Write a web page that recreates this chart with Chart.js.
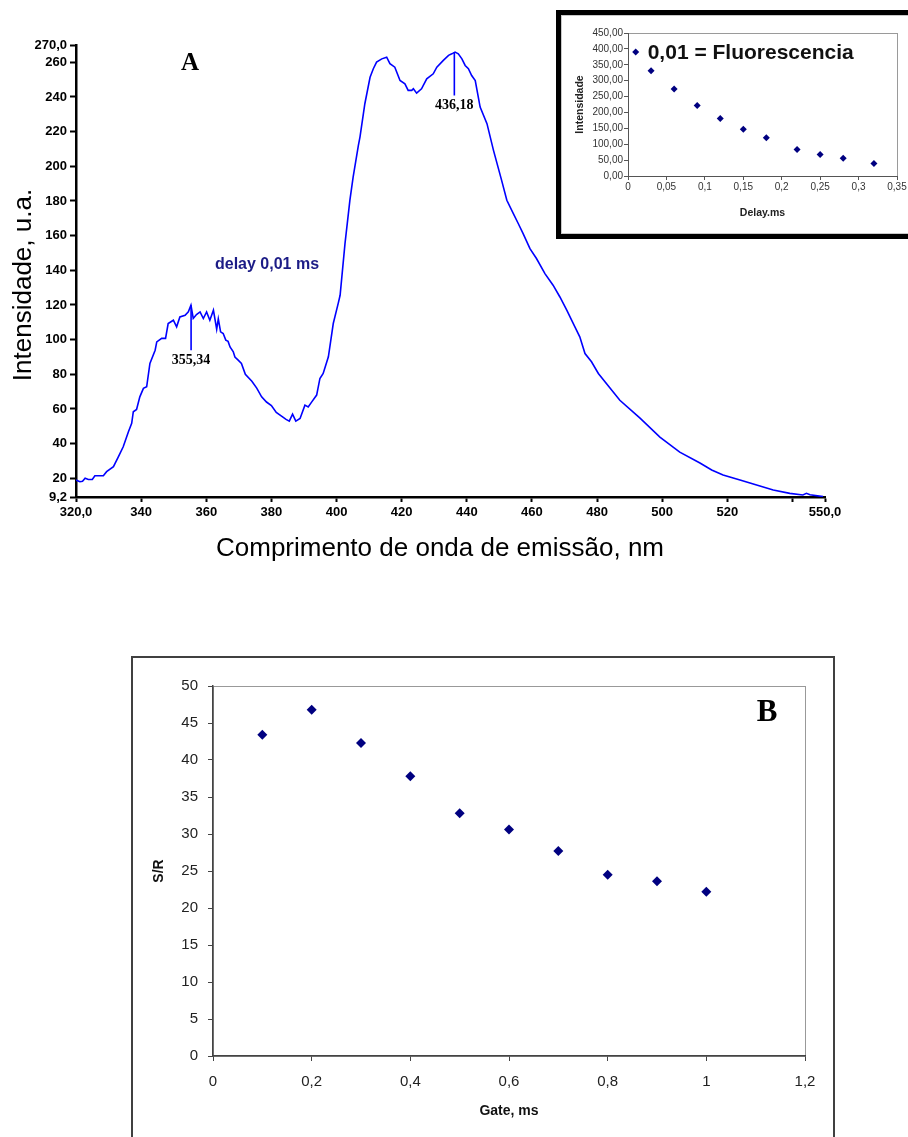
<!DOCTYPE html>
<html>
<head>
<meta charset="utf-8">
<script src="https://cdn.jsdelivr.net/npm/chart.js@4.4.1/dist/chart.umd.min.js"></script>
<style>
  html, body { margin: 0; padding: 0; background: #fff; }
  body { width: 908px; height: 1137px; position: relative; overflow: hidden; }
  #boxA { position: absolute; left: 0; top: 0; width: 908px; height: 580px; }
  #boxInset { position: absolute; left: 556px; top: 10px; width: 352px; height: 219px;
              border: 5px solid #000; background: #fff; box-shadow: inset 0 0 0 1px #c8c8c8; }
  #boxB { position: absolute; left: 131px; top: 656px; width: 700px; height: 480px;
          border: 2px solid #404040; background: #fff; }
</style>
</head>
<body>
<div id="boxA"><canvas id="chartA"></canvas></div>
<div id="boxInset"><canvas id="chartInset"></canvas></div>
<div id="boxB"><canvas id="chartB"></canvas></div>

<script>
const ARIAL = "Arial, 'Liberation Sans', Helvetica, sans-serif";
const TIMES = "'Times New Roman', 'Liberation Serif', serif";

// --- A: emission spectrum (delay 0,01 ms) ---
const specNm = [320.0, 321.2, 322.0, 322.8, 323.8, 325.0, 325.8, 328.4, 329.4, 331.5,
  333.0, 334.5, 336.1, 337.1, 337.6, 338.6, 339.6, 340.7, 341.7, 342.7,
  344.3, 344.8, 346.3, 347.5, 348.3, 349.9, 350.9, 351.9, 353.5, 354.5,
  355.3, 356.0, 357.0, 358.1, 359.1, 360.1, 361.1, 362.2, 363.2, 363.7,
  364.4, 365.2, 366.0, 366.7, 367.3, 368.3, 368.8, 369.8, 370.8, 372.0,
  374.0, 375.5, 377.0, 378.5, 380.0, 381.5, 383.0, 384.5, 385.5, 386.5,
  387.5, 388.8, 390.3, 391.3, 392.4, 393.9, 394.9, 395.9, 397.5, 399.0,
  400.5, 401.1, 402.6, 404.1, 405.1, 406.7, 407.2, 408.7, 410.3, 411.3,
  412.3, 413.9, 415.4, 416.4, 417.9, 419.5, 421.0, 422.0, 423.1, 423.6,
  424.6, 426.1, 427.7, 429.7, 430.8, 432.8, 434.4, 435.4, 436.4, 437.4,
  438.5, 439.5, 440.5, 441.5, 442.6, 444.1, 446.2, 448.2, 450.7, 452.3,
  454.3, 455.8, 457.3, 459.4, 461.4, 464.0, 466.5, 468.6, 470.7, 473.2,
  474.7, 476.3, 478.3, 480.4, 487.0, 493.2, 499.3, 505.4, 511.6, 515.2,
  518.7, 523.9, 529.0, 534.1, 539.2, 543.2, 544.3, 545.4, 549.4];
const specVal = [19.0, 18.0, 18.3, 20.0, 19.3, 19.3, 21.5, 21.5, 23.8, 26.7,
  32.4, 38.2, 46.8, 51.7, 58.4, 59.7, 67.0, 71.9, 72.8, 86.3,
  93.9, 98.7, 100.7, 100.7, 109.3, 111.2, 107.4, 113.1, 114.1, 116.0,
  119.9, 112.2, 114.5, 116.0, 112.2, 116.0, 111.2, 117.0, 106.0, 112.0,
  104.5, 103.5, 99.7, 99.0, 95.8, 93.0, 90.0, 88.2, 86.3, 80.0,
  76.0, 72.0, 67.0, 64.0, 62.0, 58.0, 56.0, 54.0, 53.0, 57.0,
  53.0, 54.5, 62.2, 61.2, 64.1, 68.0, 77.6, 80.5, 90.1, 109.3,
  120.8, 125.6, 155.4, 180.4, 193.8, 212.0, 216.9, 236.1, 251.4, 256.3,
  260.1, 262.0, 263.0, 259.2, 257.2, 249.5, 247.6, 243.8, 243.8, 244.8,
  242.2, 244.7, 250.5, 253.4, 257.2, 261.1, 264.0, 264.9, 265.9, 264.9,
  262.0, 258.2, 256.3, 252.4, 249.5, 234.2, 224.6, 209.2, 191.9, 180.4,
  172.7, 167.0, 161.2, 152.5, 146.8, 138.1, 131.4, 124.6, 117.0, 107.4,
  101.6, 92.0, 87.2, 80.5, 65.0, 54.7, 43.8, 35.1, 28.8, 24.8,
  21.9, 19.0, 16.1, 13.2, 11.3, 10.4, 11.3, 10.5, 9.4];
const specXTicks = [320, 340, 360, 380, 400, 420, 440, 460, 480, 500, 520, 540, 550];
const specXLabels = ['320,0', '340', '360', '380', '400', '420', '440', '460', '480', '500', '520', '', '550,0'];
const specYTicks = [9.2, 20, 40, 60, 80, 100, 120, 140, 160, 180, 200, 220, 240, 260, 270];
const specYLabels = ['9,2', '20', '40', '60', '80', '100', '120', '140', '160', '180', '200', '220', '240', '260', '270,0'];
// peak markers: wavelength, top and bottom of the marker line, label
const peakNm = [355.34, 436.18];
const peakTop = [119.9, 265.9];
const peakLow = [93.9, 240.9];
const peakText = ['355,34', '436,18'];

// --- inset: intensity vs delay ---
const insetDelay = [0.01, 0.03, 0.06, 0.09, 0.12, 0.15, 0.18, 0.22, 0.25, 0.28, 0.32];
const insetInt = [390, 331, 274, 222, 181, 147, 120, 83, 68, 56, 39];
const insetXTicks = [0, 0.05, 0.1, 0.15, 0.2, 0.25, 0.3, 0.35];
const insetXLabels = ['0', '0,05', '0,1', '0,15', '0,2', '0,25', '0,3', '0,35'];
const insetYTicks = [0, 50, 100, 150, 200, 250, 300, 350, 400, 450];
const insetYLabels = ['0,00', '50,00', '100,00', '150,00', '200,00', '250,00', '300,00', '350,00', '400,00', '450,00'];

// --- B: S/R vs gate ---
const gate = [0.1, 0.2, 0.3, 0.4, 0.5, 0.6, 0.7, 0.8, 0.9, 1.0];
const snr = [43.4, 46.8, 42.3, 37.8, 32.8, 30.6, 27.7, 24.5, 23.6, 22.2];
const gateTicks = [0, 0.2, 0.4, 0.6, 0.8, 1, 1.2];
const gateLabels = ['0', '0,2', '0,4', '0,6', '0,8', '1', '1,2'];
const snrTicks = [0, 5, 10, 15, 20, 25, 30, 35, 40, 45, 50];
const snrLabels = ['0', '5', '10', '15', '20', '25', '30', '35', '40', '45', '50'];

Chart.defaults.font.family = ARIAL;
Chart.defaults.animation = false;
Chart.defaults.plugins.legend.display = false;
Chart.defaults.plugins.tooltip.enabled = false;

function fixedTicks(values) {
    return scale => { scale.ticks = values.map(v => ({ value: v })); };
}

// grey box round the plot area (Excel style); axes are drawn over it
const plotFrame = {
    id: 'plotFrame',
    beforeDraw(chart, args, opts) {
        if (!opts.color) return;
        const { ctx, chartArea: a } = chart;
        ctx.save();
        ctx.strokeStyle = opts.color;
        ctx.lineWidth = 1;
        ctx.strokeRect(a.left + 0.5, a.top + 0.5, a.right - a.left, a.bottom - a.top);
        ctx.restore();
    }
};

// texts of chart A
const specText = {
    id: 'specText',
    afterDatasetsDraw(chart) {
        const { ctx, scales: { x, y } } = chart;
        ctx.save();
        ctx.fillStyle = '#000';
        ctx.textAlign = 'center';
        ctx.textBaseline = 'middle';
        ctx.font = 'bold 14px ' + TIMES;
        peakNm.forEach((nm, i) => {
            ctx.fillText(peakText[i], x.getPixelForValue(nm), y.getPixelForValue(peakLow[i]) + 10);
        });
        ctx.font = 'bold 25px ' + TIMES;
        ctx.fillText('A', 190, 64);

        ctx.font = 'bold 16px ' + ARIAL;
        ctx.fillStyle = '#1c1c86';
        ctx.textAlign = 'left';
        ctx.fillText('delay 0,01 ms', 215, 265);

        ctx.fillStyle = '#000';
        ctx.textAlign = 'center';
        ctx.font = '26px ' + ARIAL;
        ctx.fillText('Comprimento de onda de emissão, nm', 440, 549);
        ctx.translate(24, 285);
        ctx.rotate(-Math.PI / 2);
        ctx.fillText('Intensidade, u.a.', 0, 0);
        ctx.restore();
    }
};

new Chart(document.getElementById('chartA'), {
    type: 'line',
    data: {
        datasets: [{
            data: specNm.map((nm, i) => ({ x: nm, y: specVal[i] })),
            borderColor: '#0000ff',
            borderWidth: 1.6,
            pointRadius: 0,
            tension: 0
        }].concat(peakNm.map((nm, i) => ({
            data: [{ x: nm, y: peakTop[i] }, { x: nm, y: peakLow[i] }],
            borderColor: '#0000ff',
            borderWidth: 1.6,
            pointRadius: 0
        })))
    },
    options: {
        responsive: true,
        maintainAspectRatio: false,
        layout: { padding: { top: 45, right: 83, left: 0, bottom: 0 } },
        scales: {
            x: {
                type: 'linear', min: 320, max: 550,
                afterBuildTicks: fixedTicks(specXTicks),
                afterFit: s => { s.height = 83; },
                ticks: {
                    callback: (v, i) => specXLabels[i],
                    autoSkip: false, maxRotation: 0, padding: 3,
                    color: '#000', font: { size: 13, weight: 'bold' }
                },
                grid: { drawOnChartArea: false, tickLength: 5, tickColor: '#000', tickWidth: 2 },
                border: { color: '#000', width: 2.5 }
            },
            y: {
                type: 'linear', min: 9.2, max: 270,
                afterBuildTicks: fixedTicks(specYTicks),
                afterFit: s => { s.width = 76; },
                ticks: {
                    callback: (v, i) => specYLabels[i],
                    autoSkip: false, padding: 3,
                    color: '#000', font: { size: 13, weight: 'bold' }
                },
                grid: { drawOnChartArea: false, tickLength: 6, tickColor: '#000', tickWidth: 2 },
                border: { color: '#000', width: 2.5 }
            }
        }
    },
    plugins: [specText]
});

// inset: legend text beside the first point
const insetText = {
    id: 'insetText',
    afterDatasetsDraw(chart) {
        const { ctx, scales: { x, y } } = chart;
        ctx.save();
        ctx.fillStyle = '#111';
        ctx.font = 'bold 21px ' + ARIAL;
        ctx.textAlign = 'left';
        ctx.textBaseline = 'middle';
        ctx.fillText('0,01 = Fluorescencia', x.getPixelForValue(insetDelay[0]) + 12, y.getPixelForValue(insetInt[0]) + 1);
        ctx.restore();
    }
};

new Chart(document.getElementById('chartInset'), {
    type: 'scatter',
    data: {
        datasets: [{
            data: insetDelay.map((d, i) => ({ x: d, y: insetInt[i] })),
            pointStyle: 'rectRot',
            pointRadius: 3.5,
            backgroundColor: '#000080',
            borderColor: '#000080',
            borderWidth: 0
        }]
    },
    options: {
        responsive: true,
        maintainAspectRatio: false,
        layout: { padding: { top: 18, right: 16, left: 0, bottom: 0 } },
        plugins: { plotFrame: { color: '#9a9a9a' } },
        scales: {
            x: {
                type: 'linear', min: 0, max: 0.35,
                afterBuildTicks: fixedTicks(insetXTicks),
                afterFit: s => { s.height = 58; },
                ticks: {
                    callback: (v, i) => insetXLabels[i],
                    autoSkip: false, maxRotation: 0, padding: 1,
                    color: '#333', font: { size: 10 }
                },
                grid: { drawOnChartArea: false, tickLength: 4, tickColor: '#555' },
                border: { color: '#555', width: 1 },
                title: {
                    display: true, text: 'Delay.ms', color: '#222',
                    font: { size: 10.5, weight: 'bold' }, padding: { top: 0, bottom: 15 }
                }
            },
            y: {
                type: 'linear', min: 0, max: 450,
                afterBuildTicks: fixedTicks(insetYTicks),
                afterFit: s => { s.width = 67; },
                ticks: {
                    callback: (v, i) => insetYLabels[i],
                    autoSkip: false, padding: 1,
                    color: '#333', font: { size: 10 }
                },
                grid: { drawOnChartArea: false, tickLength: 4, tickColor: '#555' },
                border: { color: '#555', width: 1 },
                title: {
                    display: true, text: 'Intensidade', color: '#222',
                    font: { size: 10.5, weight: 'bold' }, padding: { top: 13, bottom: 0 }
                }
            }
        }
    },
    plugins: [plotFrame, insetText]
});

// B label
const gateText = {
    id: 'gateText',
    afterDatasetsDraw(chart) {
        const { ctx, chartArea: a } = chart;
        ctx.save();
        ctx.fillStyle = '#000';
        ctx.font = 'bold 31px ' + TIMES;
        ctx.textAlign = 'center';
        ctx.textBaseline = 'middle';
        ctx.fillText('B', a.right - 38, a.top + 27);
        ctx.restore();
    }
};

new Chart(document.getElementById('chartB'), {
    type: 'scatter',
    data: {
        datasets: [{
            data: gate.map((g, i) => ({ x: g, y: snr[i] })),
            pointStyle: 'rectRot',
            pointRadius: 5,
            backgroundColor: '#000080',
            borderColor: '#000080',
            borderWidth: 0
        }]
    },
    options: {
        responsive: true,
        maintainAspectRatio: false,
        layout: { padding: { top: 28, right: 28, left: 0, bottom: 0 } },
        plugins: { plotFrame: { color: '#999' } },
        scales: {
            x: {
                type: 'linear', min: 0, max: 1.2,
                afterBuildTicks: fixedTicks(gateTicks),
                afterFit: s => { s.height = 82; },
                ticks: {
                    callback: (v, i) => gateLabels[i],
                    autoSkip: false, maxRotation: 0, padding: 12,
                    color: '#222', font: { size: 15 }
                },
                grid: { drawOnChartArea: false, tickLength: 5, tickColor: '#444' },
                border: { color: '#444', width: 1.5 },
                title: {
                    display: true, text: 'Gate, ms', color: '#111',
                    font: { size: 14, weight: 'bold' }, padding: { top: 0, bottom: 18 }
                }
            },
            y: {
                type: 'linear', min: 0, max: 50,
                afterBuildTicks: fixedTicks(snrTicks),
                afterFit: s => { s.width = 80; },
                ticks: {
                    callback: (v, i) => snrLabels[i],
                    autoSkip: false, padding: 10,
                    color: '#222', font: { size: 15 }
                },
                grid: { drawOnChartArea: false, tickLength: 5, tickColor: '#444' },
                border: { color: '#444', width: 1.5 },
                title: {
                    display: true, text: 'S/R', color: '#111',
                    font: { size: 14, weight: 'bold' }, padding: { top: 18, bottom: 0 }
                }
            }
        }
    },
    plugins: [plotFrame, gateText]
});
</script>
</body>
</html>
